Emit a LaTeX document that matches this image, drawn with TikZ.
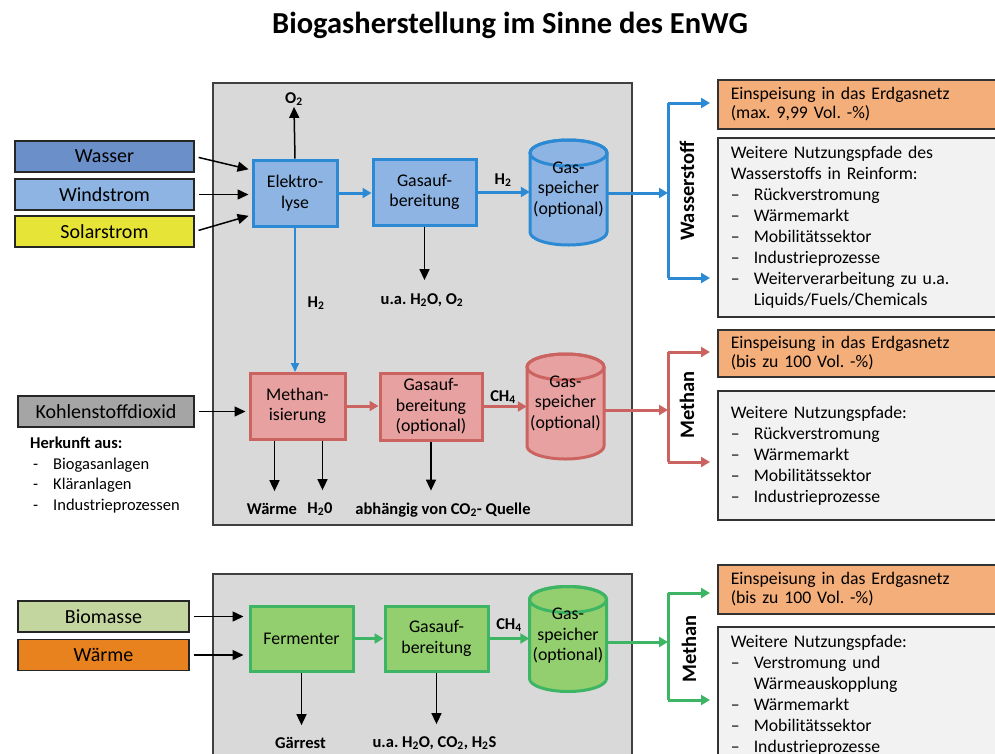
\documentclass[tikz,border=0pt]{standalone}
\usepackage{fontspec}
\setmainfont{Carlito}
\usetikzlibrary{arrows.meta,positioning}
\frenchspacing

\definecolor{hblau}{HTML}{2B8AD3}
\definecolor{hblauf}{HTML}{8DB4E2}
\definecolor{wasserf}{HTML}{6B8FC9}
\definecolor{solarf}{HTML}{E6E436}
\definecolor{mrot}{HTML}{CB6461}
\definecolor{mrotf}{HTML}{E6A1A0}
\definecolor{bgruen}{HTML}{3DB565}
\definecolor{bgruenf}{HTML}{93CF6E}
\definecolor{co2f}{HTML}{A5A5A5}
\definecolor{biof}{HTML}{C3D6A0}
\definecolor{waermef}{HTML}{E8821F}
\definecolor{einspf}{HTML}{F4AE7A}
\definecolor{weiterf}{HTML}{F2F2F2}
\definecolor{grauf}{HTML}{D9D9D9}

\newcommand{\punkt}{\makebox[23pt][l]{--}}
\newcommand{\gasspeicher}[5]{%
  \filldraw[fill=#4, draw=#5, line width=3pt]
    (#2-38.5,#3-39.5) -- (#2-38.5,#3+39.5)
    arc[start angle=180, end angle=0, x radius=38.5, y radius=13]
    -- (#2+38.5,#3-39.5)
    arc[start angle=0, end angle=-180, x radius=38.5, y radius=13] -- cycle;
  \draw[draw=#5, line width=3pt] (#2,#3-39.5) ellipse[x radius=38.5, y radius=13];
  \node[box, minimum width=77, minimum height=100] (#1) at (#2,#3-3) {Gas-\\speicher\\(optional)};
}

\begin{document}
\begin{tikzpicture}[x=1pt, y=-1pt,
  eingang/.style={draw=black!85, line width=1.5pt, minimum width=179, minimum height=31, inner sep=0pt, font=\fontsize{20}{22}\selectfont},
  box/.style={align=center, inner sep=0pt, font=\fontsize{17.8}{20.5}\selectfont},
  prozess/.style={box, line width=3pt, minimum height=66},
  pfeil/.style={line width=1.5pt, -{Triangle[length=11pt, width=10pt]}},
  fluss/.style={line width=3pt, -{Triangle[length=9pt, width=10pt]}},
  marke/.style={font=\fontsize{16.5}{18}\selectfont\bfseries, inner sep=1pt},
  gas/.style={font=\fontsize{20.5}{22}\selectfont\bfseries, rotate=90, inner sep=0pt},
  einsp/.style={draw=black!80, line width=1.5pt, fill=einspf, anchor=west, text width=264pt, inner xsep=13pt, inner ysep=0pt, align=left, font=\fontsize{17.7}{19}\selectfont},
  weiter/.style={einsp, fill=weiterf, font=\fontsize{17.7}{21}\selectfont}]
  \useasboundingbox (0,0) rectangle (995,753);
  \clip (0,0) rectangle (995,753);

  % Titel
  \node[font=\fontsize{30.5}{34}\selectfont\bfseries] (titel) at (510,25) {Biogasherstellung im Sinne des EnWG};

  % Rahmen
  \draw[fill=grauf, draw=black!75, line width=1.5pt] (213,83) rectangle (632,525);
  \draw[fill=grauf, draw=black!75, line width=1.5pt] (213,574) rectangle (632,775);

  % Eingaenge
  \node[eingang, fill=wasserf] (wasser) at (104.5,156.5) {Wasser};
  \node[eingang, fill=hblauf] (wind) at (104.5,194.5) {Windstrom};
  \node[eingang, fill=solarf] (solar) at (104.5,231.5) {Solarstrom};
  \node[eingang, fill=co2f, minimum width=176] (co2) at (106,411.5) {Kohlenstoffdioxid};
  \node[eingang, fill=biof, minimum width=171] (bio) at (103.5,616.5) {Biomasse};
  \node[eingang, fill=waermef, minimum width=171] (waerme) at (103.5,655) {W\"arme};

  % Herkunft
  \node[anchor=north west, align=left, inner sep=0pt, font=\fontsize{16.5}{20.5}\selectfont] (herkunft) at (30,437)
    {\textbf{Herkunft aus:}\\
     \makebox[23pt][l]{\hspace{3pt}-}Biogasanlagen\\
     \makebox[23pt][l]{\hspace{3pt}-}Kl\"aranlagen\\
     \makebox[23pt][l]{\hspace{3pt}-}Industrieprozessen};

  % Wasserstoff
  \node[prozess, draw=hblau, fill=hblauf, minimum width=84] (elek) at (295,193) {Elektro-\\lyse};
  \node[prozess, draw=hblau, fill=hblauf, minimum width=103] (gas1) at (424.5,192) {Gasauf-\\bereitung};
  \gasspeicher{sp1}{568.5}{192.5}{hblauf}{hblau}
  \node[marke] (o2) at (294,99) {O\textsubscript{2}};
  \node[marke] (rest1) at (422,300) {u.a. H\textsubscript{2}O, O\textsubscript{2}};
  \node[marke] (h2a) at (503,180) {H\textsubscript{2}};
  \node[marke] (h2b) at (316,303) {H\textsubscript{2}};

  \draw[pfeil, shorten <=4pt, shorten >=3pt] (wasser.east) -- ([yshift=23pt]elek.west);
  \draw[pfeil, shorten <=4pt, shorten >=3pt] (wind.east) -- (wind.east -| elek.west);
  \draw[pfeil, shorten <=4pt, shorten >=3pt] (solar.east) -- ([yshift=-22pt]elek.west);
  \draw[pfeil] (elek.north) -- (o2.south);
  \draw[pfeil, shorten >=12pt] (gas1.south) -- (gas1.south |- rest1.north);
  \draw[fluss, draw=hblau, hblau] (elek.east) -- (elek.east -| gas1.west);
  \draw[fluss, draw=hblau, hblau] (gas1.east) -- (gas1.east -| sp1.west);
  \draw[line width=2pt, draw=hblau, -{Triangle[length=9pt, width=8pt]}] (elek.south) -- (elek.south |- 0,372);

  % Methan
  \node[prozess, draw=mrot, fill=mrotf, minimum width=95] (meth) at (297.5,406) {Methan-\\isierung};
  \node[prozess, draw=mrot, fill=mrotf, minimum width=102, minimum height=67] (gas2) at (431,406.5) {Gasauf-\\bereitung\\(optional)};
  \gasspeicher{sp2}{565.5}{406.5}{mrotf}{mrot}
  \node[marke] (waermeab) at (272,509) {W\"arme};
  \node[marke] (wasserab) at (320,509) {H\textsubscript{2}0};
  \node[marke] (rest2) at (443,510) {abh\"angig von CO\textsubscript{2}- Quelle};
  \node[marke] (ch4a) at (503,397) {CH\textsubscript{4}};

  \draw[pfeil, shorten <=4pt, shorten >=3pt] (co2.east) -- (co2.east -| meth.west);
  \draw[pfeil, shorten >=11pt] ([xshift=-23pt]meth.south) -- ([xshift=-23pt]meth.south |- waermeab.north);
  \draw[pfeil, shorten >=11pt] ([xshift=25pt]meth.south) -- ([xshift=25pt]meth.south |- wasserab.north);
  \draw[pfeil, shorten >=11pt] (gas2.south) -- (gas2.south |- rest2.north);
  \draw[fluss, draw=mrot, mrot] (meth.east) -- (meth.east -| gas2.west);
  \draw[fluss, draw=mrot, mrot] (gas2.east) -- (gas2.east -| sp2.west);

  % Biogas
  \node[prozess, draw=bgruen, fill=bgruenf, minimum width=103, minimum height=65] (ferm) at (301.5,638.5) {Fermenter};
  \node[prozess, draw=bgruen, fill=bgruenf, minimum width=103, minimum height=65] (gas3) at (436.5,638.5) {Gasauf-\\bereitung};
  \gasspeicher{sp3}{568}{639}{bgruenf}{bgruen}
  \node[marke] (gaerrest) at (300.5,743) {G\"arrest};
  \node[marke] (rest3) at (434.5,743) {u.a. H\textsubscript{2}O, CO\textsubscript{2}, H\textsubscript{2}S};
  \node[marke] (ch4b) at (509,625) {CH\textsubscript{4}};

  \draw[pfeil, shorten <=4pt, shorten >=5pt] (bio.east) -- (bio.east -| ferm.west);
  \draw[pfeil, shorten <=4pt, shorten >=5pt] (waerme.east) -- (waerme.east -| ferm.west);
  \draw[pfeil, shorten >=11pt] (ferm.south) -- (ferm.south |- gaerrest.north);
  \draw[pfeil, shorten >=11pt] (gas3.south) -- (gas3.south |- rest3.north);
  \draw[fluss, draw=bgruen, bgruen] (ferm.east) -- (ferm.east -| gas3.west);
  \draw[fluss, draw=bgruen, bgruen] (gas3.east) -- (gas3.east -| sp3.west);

  % Nutzung Wasserstoff
  \node[einsp, minimum height=49] (e1) at (717,104.5) {Einspeisung in das Erdgasnetz\\(max. 9,99 Vol. -\%)};
  \node[weiter, minimum height=179] (w1) at (717,227.5)
    {Weitere Nutzungspfade des\\Wasserstoffs in Reinform:\\
     \punkt R\"uckverstromung\\\punkt W\"armemarkt\\\punkt Mobilit\"atssektor\\
     \punkt Industrieprozesse\\\punkt Weiterverarbeitung zu u.a.\\
     \hspace*{23pt}Liquids/Fuels/Chemicals};
  \coordinate (v1) at (668,193);
  \coordinate (o1) at (668,103);
  \coordinate (u1) at (668,278);
  \node[gas] (lbl1) at (687,191) {Wasserstoff};
  \draw[fluss, draw=hblau, hblau] (sp1.east |- v1) -- (v1);
  \draw[line width=3pt, hblau] (o1) -- (u1);
  \draw[fluss, draw=hblau, hblau, shorten >=7pt] (o1) -- (o1 -| e1.west);
  \draw[fluss, draw=hblau, hblau, shorten >=7pt] (u1) -- (u1 -| w1.west);

  % Nutzung Methan
  \node[einsp, minimum height=47] (e2) at (717,353.5) {Einspeisung in das Erdgasnetz\\(bis zu 100 Vol. -\%)};
  \node[weiter, minimum height=129] (w2) at (717,455.5)
    {Weitere Nutzungspfade:\\
     \punkt R\"uckverstromung\\\punkt W\"armemarkt\\\punkt Mobilit\"atssektor\\
     \punkt Industrieprozesse};
  \coordinate (v2) at (668,410);
  \coordinate (o2b) at (668,352);
  \coordinate (u2) at (668,462);
  \node[gas] (lbl2) at (687,405) {Methan};
  \draw[fluss, draw=mrot, mrot] (sp2.east |- v2) -- (v2);
  \draw[line width=3pt, mrot] (o2b) -- (u2);
  \draw[fluss, draw=mrot, mrot, shorten >=7pt] (o2b) -- (o2b -| e2.west);
  \draw[fluss, draw=mrot, mrot, shorten >=7pt] (u2) -- (u2 -| w2.west);

  % Nutzung Biogas
  \node[einsp, minimum height=49] (e3) at (717,589.5) {Einspeisung in das Erdgasnetz\\(bis zu 100 Vol. -\%)};
  \node[weiter, minimum height=136] (w3) at (717,695)
    {Weitere Nutzungspfade:\\
     \punkt Verstromung und\\\hspace*{23pt}W\"armeauskopplung\\
     \punkt W\"armemarkt\\\punkt Mobilit\"atssektor\\
     \punkt Industrieprozesse};
  \coordinate (v3) at (668,642);
  \coordinate (o3) at (668,593);
  \coordinate (u3) at (668,700);
  \node[gas] (lbl3) at (689,649) {Methan};
  \draw[fluss, draw=bgruen, bgruen] (sp3.east |- v3) -- (v3);
  \draw[line width=3pt, bgruen] (o3) -- (u3);
  \draw[fluss, draw=bgruen, bgruen, shorten >=7pt] (o3) -- (o3 -| e3.west);
  \draw[fluss, draw=bgruen, bgruen, shorten >=7pt] (u3) -- (u3 -| w3.west);
\end{tikzpicture}
\end{document}
